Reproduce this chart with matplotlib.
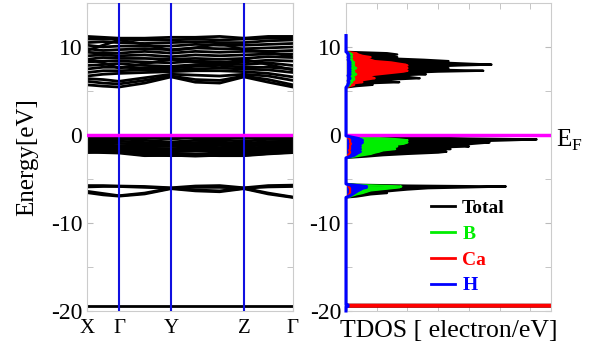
import matplotlib
matplotlib.use('Agg')
import matplotlib.pyplot as plt
from matplotlib.ticker import MultipleLocator

plt.rcParams['font.family'] = ['Liberation Serif', 'DejaVu Serif']
plt.rcParams['axes.unicode_minus'] = False
plt.rcParams['mathtext.fontset'] = 'custom'
plt.rcParams['mathtext.rm'] = 'Liberation Serif'

# ---- band structure ----
k_labels = ['X', 'Γ', 'Y', 'Z', 'Γ']
k_ticks = [0.0, 0.155, 0.408, 0.762, 1.0]
k_path = [0.0, 0.078, 0.155, 0.28, 0.408, 0.526, 0.644, 0.762, 0.88, 1.0]

bands = [
  # deep band
  [-19.4] * 10,
  # lower valence
  [-5.75, -5.75, -5.8, -5.85, -6.0, -5.8, -5.75, -6.0, -5.75, -5.7],
  [-5.9, -5.85, -5.85, -5.95, -6.05, -5.95, -5.95, -6.05, -5.9, -5.85],
  [-6.4, -6.65, -6.9, -6.6, -6.05, -6.25, -6.35, -6.05, -6.6, -7.05],
  [-6.55, -6.8, -6.95, -6.7, -6.1, -6.35, -6.45, -6.1, -6.7, -7.1],
  # upper valence
  [-0.15, -0.15, -0.1, -0.15, -0.2, -0.15, -0.15, -0.2, -0.15, -0.15],
  [-0.35, -0.3, -0.25, -0.35, -0.45, -0.3, -0.3, -0.4, -0.3, -0.3],
  [-0.55, -0.5, -0.45, -0.6, -0.8, -0.6, -0.55, -0.7, -0.5, -0.5],
  [-0.75, -0.7, -0.7, -0.85, -1.0, -0.85, -0.8, -0.95, -0.75, -0.7],
  [-0.95, -0.9, -0.95, -1.05, -1.15, -1.0, -1.0, -1.1, -0.95, -0.9],
  [-1.1, -1.15, -1.2, -1.25, -1.3, -1.25, -1.2, -1.25, -1.15, -1.1],
  [-1.3, -1.35, -1.4, -1.5, -1.55, -1.45, -1.45, -1.5, -1.35, -1.3],
  [-1.45, -1.55, -1.6, -1.7, -1.75, -1.65, -1.6, -1.7, -1.55, -1.5],
  [-1.6, -1.7, -1.8, -1.95, -1.9, -1.85, -1.8, -1.9, -1.7, -1.65],
  [-1.75, -1.85, -1.95, -2.2, -2.1, -2.2, -2.0, -2.1, -1.9, -1.8],
  [-1.9, -2.0, -2.05, -2.35, -2.3, -2.4, -2.3, -2.3, -2.1, -1.95],
  [-2.0, -1.95, -1.9, -2.3, -2.35, -2.3, -2.35, -2.35, -2.15, -2.0],
  # conduction
  [5.7, 5.55, 5.45, 5.9, 6.6, 6.0, 5.9, 6.6, 6.0, 5.45],
  [6.1, 5.9, 5.8, 6.2, 6.7, 6.3, 6.2, 6.7, 6.3, 5.7],
  [6.4, 6.3, 6.1, 6.5, 6.9, 6.8, 6.7, 6.9, 6.7, 6.2],
  [6.7, 6.9, 7.0, 7.1, 7.2, 7.3, 7.3, 7.2, 7.0, 6.6],
  [7.1, 7.3, 7.3, 7.4, 7.4, 7.5, 7.6, 7.5, 7.4, 7.1],
  [7.5, 7.7, 7.7, 7.6, 7.6, 7.8, 7.9, 7.7, 7.7, 7.5],
  [7.9, 8.0, 8.1, 7.9, 7.8, 8.0, 8.1, 8.0, 8.2, 7.9],
  [8.3, 8.4, 8.4, 8.3, 8.2, 8.4, 8.3, 8.3, 8.5, 8.4],
  [8.6, 8.8, 8.7, 8.7, 8.6, 8.7, 8.6, 8.7, 8.9, 8.8],
  [9.0, 9.1, 9.0, 9.1, 8.9, 9.1, 9.0, 9.1, 9.2, 9.2],
  [9.4, 9.3, 9.3, 9.5, 9.3, 9.5, 9.4, 9.5, 9.5, 9.6],
  [9.8, 9.6, 9.7, 9.8, 9.7, 9.9, 9.8, 9.8, 9.9, 10.0],
  [10.2, 10.0, 10.1, 10.1, 10.1, 10.3, 10.2, 10.2, 10.3, 10.4],
  [10.5, 10.6, 10.5, 10.4, 10.5, 10.6, 10.5, 10.5, 10.7, 10.8],
  [10.9, 10.9, 10.9, 10.8, 10.8, 10.9, 10.8, 10.9, 11.0, 11.0],
  [11.2, 11.1, 11.0, 11.0, 11.1, 11.1, 11.2, 11.0, 11.2, 11.2],
  [9.6, 10.2, 10.8, 10.3, 9.6, 9.9, 10.4, 9.7, 9.4, 8.9],
  [8.6, 8.2, 7.6, 8.1, 8.6, 8.3, 8.1, 8.6, 8.0, 7.4],
]

# ---- density of states ----
dos_energy = [-20.0, -19.5, -19.48, -19.32, -19.3,
              -7.1, -7.0, -6.9, -6.75, -6.6, -6.45, -6.3, -6.2, -6.05, -5.95, -5.85, -5.75, -5.65, -5.55,
              -2.6, -2.45, -2.3, -2.15, -2.0, -1.9, -1.75, -1.6, -1.45, -1.3, -1.15, -1.0, -0.85, -0.7,
              -0.6, -0.5, -0.4, -0.3, -0.2, -0.1,
              5.4, 5.55, 5.7, 5.85, 6.0, 6.15, 6.3, 6.45, 6.6, 6.75, 6.9, 7.05, 7.2, 7.3, 7.45, 7.6,
              7.75, 7.9, 8.0, 8.1, 8.25, 8.4, 8.55, 8.7, 8.85, 9.0, 9.15, 9.3, 9.45, 11.3]
dos_total = [0, 0, 300, 300, 0,
             0, 5, 8, 12, 20, 18, 25, 30, 40, 60, 78, 30, 5, 0,
             0, 10, 18, 30, 45, 49, 35, 51, 42, 60, 55, 62, 70, 65,
             80, 93, 60, 40, 15, 0,
             0, 5, 13, 8, 26, 14, 22, 36, 30, 22, 39, 28, 45, 67, 40, 50,
             38, 55, 71, 60, 45, 50, 38, 22, 25, 18, 25, 20, 0, 0]
dos_b = [0, 0, 0, 0, 0,
         0, 2, 3, 5, 8, 10, 12, 16, 22, 26, 27, 15, 3, 0,
         0, 4, 8, 12, 14, 16, 18, 24, 22, 25, 22, 28, 30, 28,
         30, 26, 20, 12, 6, 0,
         0, 1, 2, 2, 3, 3, 4, 4, 3, 4, 5, 4, 4, 3, 4, 5,
         4, 3, 4, 3, 4, 3, 3, 2, 3, 2, 3, 2, 0, 0]
dos_ca = [0, 0, 300, 300, 0,
          0, 1, 1, 1.5, 2, 2, 2, 2, 2, 1.5, 1.5, 1, 0.5, 0,
          0, 1, 1, 1.5, 2, 2, 1.5, 2, 2, 2, 2, 2.5, 2, 2,
          2, 2, 1.5, 1, 0.5, 0,
          0, 2, 4, 3, 8, 6, 10, 14, 12, 10, 16, 22, 28, 30, 26, 30,
          28, 30, 29, 26, 22, 14, 12, 8, 12, 8, 6, 5, 0, 0]
dos_h = [0, 0, 1, 1, 0,
         0, 1, 2, 3, 4, 5, 6, 7, 8, 10, 10, 6, 1, 0,
         0, 2, 4, 5, 6, 7, 5, 7, 6, 7, 6, 7, 8, 7,
         8, 7, 6, 4, 2, 0,
         0, 0.5, 1, 1, 1.5, 1, 1.5, 2, 1.5, 1, 2, 1.5, 2, 1.5, 2, 1.5,
         2, 1.5, 2, 1.5, 2, 1.5, 1, 1.5, 1, 1.5, 1, 1, 0, 0]

fig = plt.figure(figsize=(5.9, 3.52), dpi=100)
ax1 = fig.add_axes([0.1475, 0.1165, 0.349, 0.875])
ax2 = fig.add_axes([0.5864, 0.1165, 0.3475, 0.875])

for b in bands:
  ax1.plot(k_path, b, color='black', lw=2.0, solid_joinstyle='round')
for kt in k_ticks[1:4]:
  ax1.axvline(kt, color='#1010e0', lw=1.5, zorder=4)
ax1.axhline(0, color='#ff00ff', lw=2.5, zorder=5)
ax1.set_xlim(0, 1)
ax1.set_xticks(k_ticks)
ax1.set_xticklabels(k_labels)
ax1.set_ylabel('Energy[eV]', fontsize=18, labelpad=9)

species = [(dos_total, 'black', 'Total'), (dos_ca, '#ff0000', 'Ca'),
           (dos_b, '#00ee00', 'B'), (dos_h, '#0000ff', 'H')]
for vals, col, name in species:
  ax2.fill_betweenx(dos_energy, 0, vals, color=col, lw=0)
  ax2.plot(vals, dos_energy, color=col, lw=1.6)
ax2.plot(dos_h, dos_energy, color='#0000ff', lw=2.2, clip_on=False, zorder=6)
ax2.axhline(0, color='#ff00ff', lw=2.5, zorder=5)
ax2.set_xlim(0, 100)
ax2.set_xticks([])
ax2.xaxis.set_minor_locator(MultipleLocator(15))
ax2.set_xlabel('TDOS [ electron/eV]', fontsize=18.5, labelpad=3)
ax2.text(102.5, -0.6, r'E$_\mathrm{F}$', fontsize=18, va='center', ha='left')

# legend with proxy lines
handles = []
for vals, col, name in [species[0], species[2], species[1], species[3]]:
  h, = ax2.plot([], [], color=col, lw=2, label=name)
  handles.append(h)
leg = ax2.legend(handles=handles, loc='upper left', bbox_to_anchor=(0.415, 0.362),
                 frameon=False, handlelength=1.25, handletextpad=0.35,
                 labelspacing=0.42, borderpad=0, borderaxespad=0,
                 prop={'weight': 'bold', 'size': 14})
for t, h in zip(leg.get_texts(), handles):
  t.set_color(h.get_color())

for ax in (ax1, ax2):
  ax.set_ylim(-20, 15)
  ax.set_yticks([10, 0, -10, -20])
  ax.yaxis.set_minor_locator(MultipleLocator(5))
  ax.tick_params(axis='both', which='both', direction='in', color='#bbbbbb',
                 labelsize=17, top=True, right=True, length=4)
  ax.tick_params(axis='x', labelsize=15, pad=6)
  for s in ax.spines.values():
    s.set_color('#cccccc')

fig.savefig('out.png', dpi=100)
